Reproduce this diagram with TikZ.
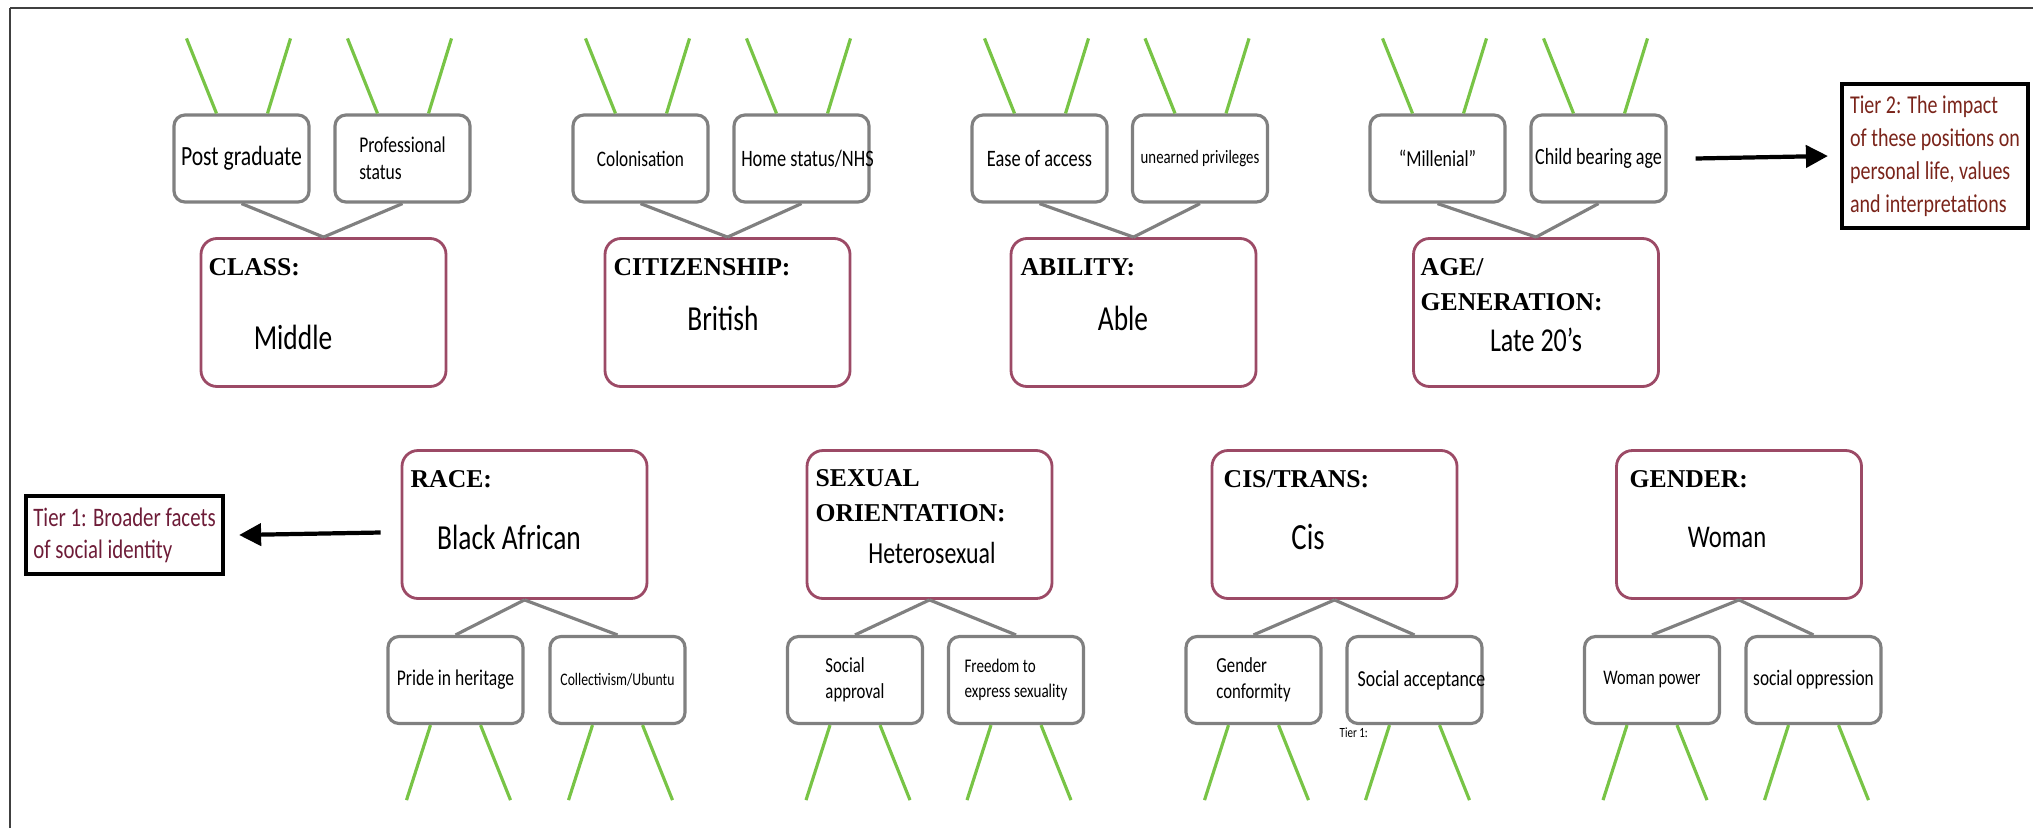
\documentclass[tikz,border=0pt]{standalone}
\usepackage{fontspec}
\setmainfont{Liberation Serif}
\newfontfamily\hand[FakeStretch=0.78]{Carlito}
\usetikzlibrary{arrows.meta}
\definecolor{facetred}{RGB}{156,74,102}
\definecolor{boxgray}{RGB}{128,128,128}
\definecolor{leafgreen}{RGB}{120,196,70}
\definecolor{tieronecol}{RGB}{110,28,56}
\definecolor{tiertwocol}{RGB}{122,36,26}

\begin{document}
\begin{tikzpicture}[x=1cm,y=-1cm,
  facet/.style={rectangle,rounded corners=1.6mm,draw=facetred,line width=0.8pt,minimum width=2.45cm,minimum height=1.48cm},
  sub/.style={rectangle,rounded corners=1.1mm,draw=boxgray,line width=0.9pt,minimum width=1.35cm,minimum height=0.87cm,inner sep=0pt,align=left},
  head/.style={anchor=west,inner sep=0pt,align=left,font=\bfseries\fontsize{7.3}{10}\selectfont},
  val/.style={inner sep=0pt,font=\hand\fontsize{10}{12}\selectfont},
  link/.style={draw=boxgray,line width=0.9pt},
  leg/.style={draw=leafgreen,line width=0.9pt},
  tier/.style={rectangle,draw=black,line width=1.2pt,align=left,inner sep=0.5mm},
  pointer/.style={line width=1.2pt,-{Triangle[length=2.2mm,width=2.2mm]}}]
\useasboundingbox (0,0) rectangle (20.33,8.28);
\draw[line width=0.85pt,black!75] (0.1,8.28) -- (0.1,0.08);
\draw[line width=0.6pt,black!75] (0.1,0.08) -- (20.33,0.08);

% tier 1 facets
\node[facet] (class) at (3.235,3.125) {};
\node[facet] (citizen) at (7.275,3.125) {};
\node[facet] (ability) at (11.335,3.125) {};
\node[facet] (age) at (15.36,3.125) {};
\node[facet] (race) at (5.245,5.245) {};
\node[facet] (sexual) at (9.295,5.245) {};
\node[facet] (cistrans) at (13.345,5.245) {};
\node[facet] (gender) at (17.39,5.245) {};

\node[head] (classhd) at (2.08,2.67) {CLASS:};
\node[head] (citizenhd) at (6.13,2.67) {CITIZENSHIP:};
\node[head] (abilityhd) at (10.2,2.67) {ABILITY:};
\node[head] (agehd) at (14.2,2.845) {AGE/\\GENERATION:};
\node[head] (racehd) at (4.10,4.79) {RACE:};
\node[head] (sexualhd) at (8.15,4.955) {SEXUAL\\ORIENTATION:};
\node[head] (cistranshd) at (12.23,4.79) {CIS/TRANS:};
\node[head] (genderhd) at (16.29,4.79) {GENDER:};

\node[val] (classval) at (2.93,3.37) {Middle};
\node[val] (citizenval) at (7.23,3.18) {British};
\node[val] (abilityval) at (11.23,3.18) {Able};
\node[val,font=\hand\fontsize{9.5}{11}\selectfont] (ageval) at (15.36,3.40) {Late 20’s};
\node[val] (raceval) at (5.09,5.37) {Black African};
\node[val,font=\hand\fontsize{8.7}{10}\selectfont] (sexualval) at (9.32,5.53) {Heterosexual};
\node[val,font=\hand\fontsize{10.5}{12}\selectfont] (cistransval) at (13.08,5.37) {Cis};
\node[val,font=\hand\fontsize{9}{11}\selectfont] (genderval) at (17.27,5.37) {Woman};

% tier 2 positions, top row
\node[sub,font=\hand\fontsize{7.9}{9}\selectfont] (postgrad) at (2.415,1.585) {Post graduate};
\node[sub,font=\hand\fontsize{6.4}{7.7}\selectfont] (prof) at (4.025,1.585) {Professional\\status};
\node[sub,font=\hand\fontsize{6.3}{7.5}\selectfont] (colon) at (6.405,1.585) {Colonisation};
\node[sub,font=\hand\fontsize{6.7}{8}\selectfont] (home) at (8.015,1.585) {\makebox[1.3cm]{\hspace{0.12cm}Home status/NHS}};
\node[sub,font=\hand\fontsize{6.7}{8}\selectfont] (ease) at (10.395,1.585) {Ease of access};
\node[sub,font=\hand\fontsize{5.4}{6.5}\selectfont] (unearned) at (12.0,1.585) {unearned privileges};
\node[sub,font=\hand\fontsize{6.5}{7.5}\selectfont] (millen) at (14.375,1.585) {“Millenial”};
\node[sub,font=\hand\fontsize{6.6}{8}\selectfont] (child) at (15.985,1.585) {\makebox[1.3cm]{Child bearing age}};

% tier 2 positions, bottom row
\node[sub,font=\hand\fontsize{6.4}{7.7}\selectfont] (pride) at (4.555,6.80) {Pride in heritage};
\node[sub,font=\hand\fontsize{5}{6}\selectfont] (coll) at (6.175,6.80) {Collectivism/Ubuntu};
\node[sub,font=\hand\fontsize{6.1}{7.4}\selectfont] (socap) at (8.55,6.80) {Social\\approval};
\node[sub,font=\hand\fontsize{5.5}{7.1}\selectfont] (freedom) at (10.16,6.80) {Freedom to\\express sexuality};
\node[sub,font=\hand\fontsize{6.1}{7.4}\selectfont] (gencon) at (12.535,6.80) {Gender\\conformity};
\node[sub,font=\hand\fontsize{6.5}{8}\selectfont] (socacc) at (14.145,6.80) {\makebox[1.3cm]{\hspace{0.14cm}Social acceptance}};
\node[sub,font=\hand\fontsize{5.9}{7}\selectfont] (wpow) at (16.52,6.80) {Woman power};
\node[sub,font=\hand\fontsize{6.3}{7.5}\selectfont] (sopp) at (18.135,6.80) {social oppression};

\node[inner sep=0pt,anchor=west,font=\hand\fontsize{4}{5}\selectfont] (tiernote) at (13.39,7.33) {Tier 1:};

\foreach \up/\low in {class/postgrad,class/prof,citizen/colon,citizen/home,ability/ease,ability/unearned,age/millen,age/child}
  \draw[link] (\low.south) -- (\up.north);
\foreach \up/\low in {race/pride,race/coll,sexual/socap,sexual/freedom,cistrans/gencon,cistrans/socacc,gender/wpow,gender/sopp}
  \draw[link] (\up.south) -- (\low.north);

\foreach \b in {postgrad,prof,colon,home,ease,unearned,millen,child}{
  \draw[leg] ([xshift=-2.5mm]\b.north) -- ++(-0.3,-0.75);
  \draw[leg] ([xshift=2.6mm]\b.north) -- ++(0.23,-0.75);
}
\foreach \b in {pride,coll,socap,freedom,gencon,socacc,wpow,sopp}{
  \draw[leg] ([xshift=-2.5mm]\b.south) -- ++(-0.24,0.75);
  \draw[leg] ([xshift=2.5mm]\b.south) -- ++(0.3,0.75);
}

% key
\node[tier,text=tiertwocol,font=\hand\fontsize{7.3}{9.4}\selectfont,minimum width=1.86cm,minimum height=1.44cm] (tiertwo) at (19.35,1.56) {Tier 2: The impact\\of these positions on\\personal life, values\\and interpretations};
\node[tier,text=tieronecol,font=\hand\fontsize{7.6}{9.1}\selectfont,minimum width=1.97cm,minimum height=0.78cm] (tierone) at (1.245,5.35) {Tier 1: Broader facets\\of social identity};
\draw[pointer] ([xshift=2.8mm]child.east) -- ([xshift=-1.2mm]tiertwo.west);
\draw[pointer] ([xshift=-2mm,yshift=-0.8mm]race.west) -- ([xshift=1.4mm]tierone.east);
\end{tikzpicture}
\end{document}
